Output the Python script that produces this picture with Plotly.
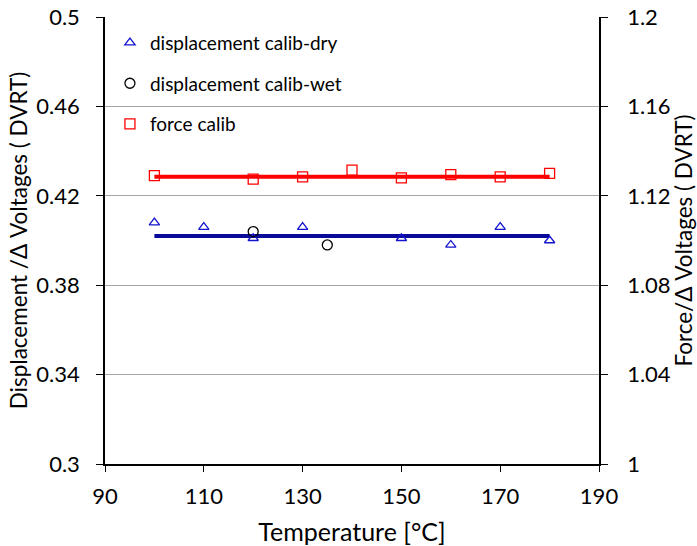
import plotly.graph_objects as go

# Calibration ratios versus temperature
temp_dry = [100, 110, 120, 130, 150, 160, 170, 180]
disp_dry = [0.408, 0.406, 0.401, 0.406, 0.401, 0.398, 0.406, 0.400]

temp_wet = [120, 135]
disp_wet = [0.404, 0.398]

temp_force = [100, 120, 130, 140, 150, 160, 170, 180]
force_vals = [1.129, 1.1275, 1.1285, 1.1315, 1.128, 1.1295, 1.1285, 1.130]

# Fitted constant levels over the tested range
fit_temp = [100, 180]
disp_fit = [0.402, 0.402]
force_fit = [1.1285, 1.1285]

left_ticks = [0.3, 0.34, 0.38, 0.42, 0.46, 0.5]
left_labels = ["0.3", "0.34", "0.38", "0.42", "0.46", "0.5"]
right_ticks = [1.0, 1.04, 1.08, 1.12, 1.16, 1.2]
right_labels = ["1", "1.04", "1.08", "1.12", "1.16", "1.2"]
x_ticks = [90, 110, 130, 150, 170, 190]

FONT = "Lato"

fig = go.Figure()

fig.add_trace(go.Scatter(
    x=fit_temp, y=disp_fit, mode="lines",
    line=dict(color="#0A0A9A", width=4),
    showlegend=False, hoverinfo="skip"))
fig.add_trace(go.Scatter(
    x=fit_temp, y=force_fit, mode="lines", yaxis="y2",
    line=dict(color="#FF0000", width=4),
    showlegend=False, hoverinfo="skip"))

fig.add_trace(go.Scatter(
    x=temp_dry, y=disp_dry, mode="markers", name="displacement calib-dry",
    legendgroup="a",
    marker=dict(symbol="triangle-up-open", size=9, color="#1414D0",
                line=dict(width=1.3, color="#1414D0"))))
fig.add_trace(go.Scatter(
    x=temp_wet, y=disp_wet, mode="markers", name="displacement calib-wet",
    legendgroup="b",
    marker=dict(symbol="circle-open", size=10, color="#000000",
                line=dict(width=1.3, color="#000000"))))
fig.add_trace(go.Scatter(
    x=temp_force, y=force_vals, mode="markers", name="force calib",
    legendgroup="c", yaxis="y2",
    marker=dict(symbol="square-open", size=10, color="#FF0000",
                line=dict(width=1.3, color="#FF0000"))))

fig.update_layout(
    width=697, height=546,
    margin=dict(l=104.5, r=97.5, t=17, b=82),
    paper_bgcolor="white", plot_bgcolor="white",
    font=dict(family=FONT, size=22, color="#000000"),
    xaxis=dict(
        range=[90, 190], tickvals=x_ticks, showgrid=False, zeroline=False,
        showline=True, linecolor="#000000", linewidth=1.5,
        ticks="outside", ticklen=6, tickcolor="#000000",
        tickfont=dict(size=22), automargin=False, ticklabelstandoff=6,
        title=dict(text="Temperature [°C]", font=dict(size=25), standoff=18)),
    yaxis=dict(
        range=[0.3, 0.5], tickvals=left_ticks, ticktext=left_labels,
        showgrid=True, gridcolor="#A6A6A6", gridwidth=1.2, zeroline=False,
        showline=True, linecolor="#000000", linewidth=1.5,
        ticks="outside", ticklen=7, tickcolor="#000000",
        tickfont=dict(size=22), automargin=False, ticklabelstandoff=12,
        title=dict(text="Displacement /Δ Voltages ( DVRT)", font=dict(size=22.5), standoff=2)),
    yaxis2=dict(
        range=[1.0, 1.2], tickvals=right_ticks, ticktext=right_labels,
        overlaying="y", side="right", showgrid=False, zeroline=False,
        showline=True, linecolor="#000000", linewidth=1.5,
        ticks="outside", ticklen=7, tickcolor="#000000",
        tickfont=dict(size=22), automargin=False, ticklabelstandoff=15,
        title=dict(text="Force/Δ Voltages ( DVRT)", font=dict(size=22.5), standoff=2)),
    legend=dict(
        x=0.01, y=0.985, xanchor="left", yanchor="top",
        bgcolor="rgba(0,0,0,0)", font=dict(size=19),
        tracegroupgap=13, itemwidth=30),
    showlegend=True,
)

fig.write_html("out.html")
